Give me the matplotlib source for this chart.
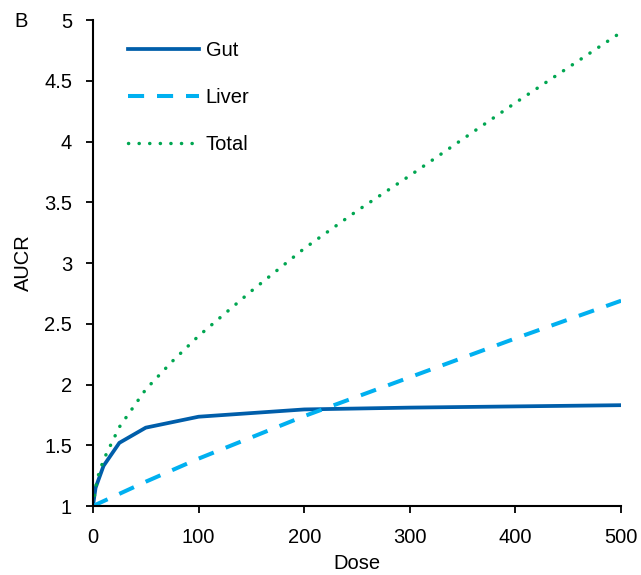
import numpy as np
import matplotlib
matplotlib.use("Agg")
import matplotlib.pyplot as plt

plt.rcParams.update({
    "font.family": ["Liberation Sans", "DejaVu Sans"],
    "font.size": 14.5,
})

# Values
gut_dose = [0, 2.5, 10, 25, 50, 100, 200, 300, 400, 500]
gut_aucr = [1.0, 1.15, 1.33, 1.52, 1.645, 1.735, 1.795, 1.81, 1.82, 1.83]

liver_dose = [0, 50, 100, 200, 300, 400, 500]
liver_aucr = [1.0, 1.2, 1.39, 1.74, 2.06, 2.38, 2.69]

total_dose = [0, 2.5, 5, 10, 25, 50, 75, 100, 150, 200, 250, 300, 350, 400, 450, 500]
total_aucr = [1.0, 1.15, 1.25, 1.38, 1.65, 1.96, 2.19, 2.40, 2.77, 3.12, 3.43,
              3.72, 4.02, 4.32, 4.61, 4.90]

x_ticks = [0, 100, 200, 300, 400, 500]
y_ticks = [1, 1.5, 2, 2.5, 3, 3.5, 4, 4.5, 5]
y_tick_labels = ["1", "1.5", "2", "2.5", "3", "3.5", "4", "4.5", "5"]


def main():
    fig = plt.figure(figsize=(6.41, 5.75), dpi=100)
    ax = fig.add_axes([0.145, 0.12, 0.824, 0.845])

    ax.plot(gut_dose, gut_aucr, color="#005EAA", linewidth=2.7,
            solid_joinstyle="round", label="Gut")
    ax.plot(liver_dose, liver_aucr, color="#00B0F0", linewidth=2.9,
            linestyle=(0, (4.0, 3.2)), label="Liver")
    ax.plot(total_dose, total_aucr, color="#00A651", linewidth=2.5,
            linestyle=(0, (0.05, 3.0)), dash_capstyle="round", label="Total")

    ax.set_xlim(0, 500)
    ax.set_ylim(1, 5)
    ax.set_xticks(x_ticks)
    ax.set_yticks(y_ticks)
    ax.set_yticklabels(y_tick_labels)
    ax.tick_params(direction="out", length=5, width=1.3, labelsize=14.5)
    ax.tick_params(axis="x", pad=11)
    ax.tick_params(axis="y", pad=10)
    for side in ("top", "right"):
        ax.spines[side].set_visible(False)
    for side in ("left", "bottom"):
        ax.spines[side].set_linewidth(1.5)

    ax.set_xlabel("Dose", fontsize=14.5, labelpad=5)
    ax.set_ylabel("AUCR", fontsize=14.5, labelpad=8)

    ax.legend(loc="upper left", bbox_to_anchor=(0.04, 0.986), frameon=False,
              handlelength=3.5, handletextpad=0.35, labelspacing=1.4,
              fontsize=14.5, borderpad=0.2)

    fig.text(0.022, 0.953, "B", fontsize=14.5)

    fig.savefig("out.png", dpi=100)
    plt.close(fig)


if __name__ == "__main__":
    main()
